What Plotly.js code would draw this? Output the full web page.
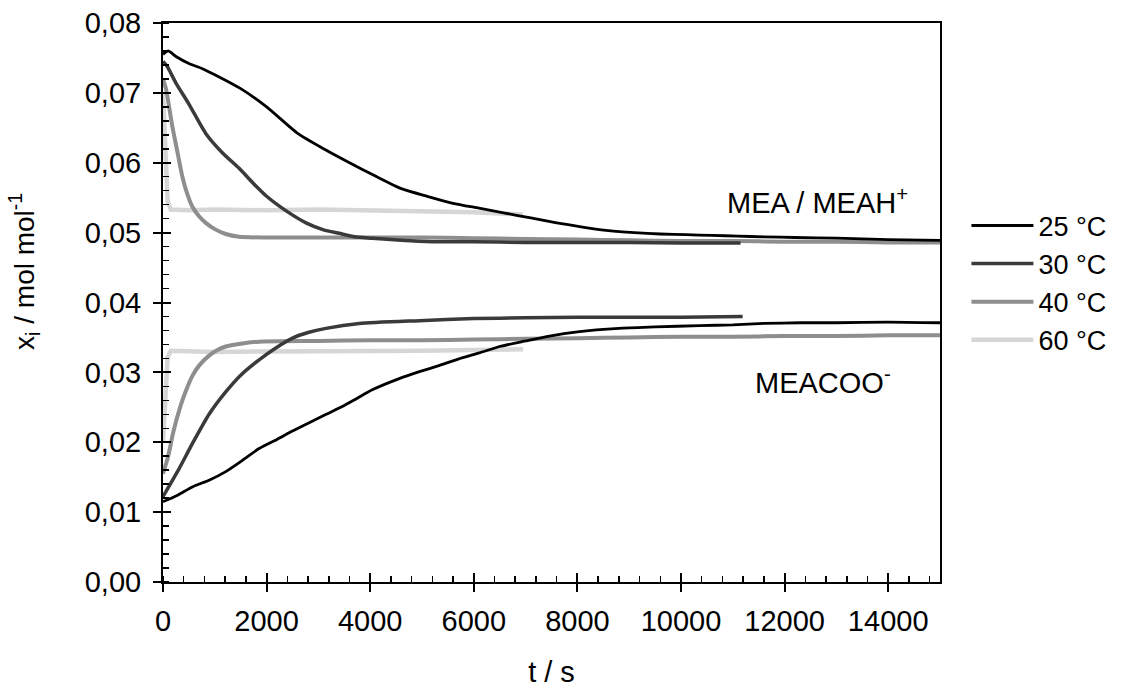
<!DOCTYPE html>
<html>
<head>
<meta charset="utf-8">
<script src="https://cdn.plot.ly/plotly-3.0.1.min.js"></script>
<style>
html,body{margin:0;padding:0;background:#fff;}
#chart{width:1124px;height:689px;}
</style>
</head>
<body>
<div id="chart"></div>
<script>
// ---- Data ----
// Temperatures (legend)
const seriesNames = ["25 °C", "30 °C", "40 °C", "60 °C"];

// MEA / MEAH+ (upper curves)
const t25u = [0,100,250,500,750,1000,1500,2000,2600,3100,3600,4100,4600,5100,5600,6100,6600,7100,7600,8100,8600,9100,9600,10100,10600,11100,11600,12200,13000,14000,15000];
const v25u = [0.0755,0.0760,0.0752,0.0742,0.0735,0.0726,0.0706,0.0680,0.0642,0.0620,0.0600,0.0581,0.0563,0.0552,0.0542,0.0535,0.0528,0.0521,0.0514,0.0508,0.0503,0.0500,0.0498,0.0497,0.0496,0.0495,0.0494,0.0493,0.0492,0.0490,0.0489];

const t30u = [0,80,250,500,825,1150,1470,1750,2000,2400,2760,3100,3400,3700,4040,4600,5200,6000,7000,8000,9000,10000,11150];
const v30u = [0.0745,0.0738,0.0714,0.0684,0.0642,0.0614,0.0592,0.0570,0.0552,0.0530,0.0514,0.0504,0.0499,0.0494,0.0492,0.0489,0.0487,0.0487,0.0486,0.0486,0.0486,0.0485,0.0485];

const t40u = [0,60,180,280,374,470,567,700,825,1000,1211,1469,2000,3000,4000,5000,6000,7000,8000,9000,10000,11000,12000,13000,14000,15000];
const v40u = [0.0720,0.0705,0.0652,0.0615,0.0580,0.0555,0.0537,0.0523,0.0514,0.0505,0.0498,0.0494,0.0493,0.0493,0.0493,0.0493,0.0492,0.0491,0.0490,0.0489,0.0488,0.0488,0.0487,0.0487,0.0486,0.0486];

const t60u = [0,40,90,150,500,1000,2000,3000,4000,5000,6000,6950];
const v60u = [0.0700,0.0620,0.0545,0.0533,0.0532,0.0533,0.0532,0.0533,0.0532,0.0531,0.0529,0.0526];

// MEACOO- (lower curves)
const t25l = [0,100,300,567,900,1211,1550,1856,2200,2500,2822,3150,3460,3750,4040,4560,4950,5340,5700,6110,6500,7000,7460,8000,8800,9500,10360,11000,11600,12300,13000,14000,15000];
const v25l = [0.0115,0.0118,0.0125,0.0136,0.0146,0.0158,0.0175,0.0191,0.0204,0.0216,0.0228,0.0240,0.0251,0.0263,0.0275,0.0291,0.0301,0.0310,0.0319,0.0328,0.0337,0.0345,0.0352,0.0358,0.0363,0.0365,0.0367,0.0368,0.0370,0.0371,0.0371,0.0372,0.0371];

const t30l = [0,100,309,567,889,1211,1500,1856,2200,2500,2800,3145,3789,4950,6000,7000,8000,9000,10000,11190];
const v30l = [0.0122,0.0135,0.0162,0.0198,0.0240,0.0272,0.0296,0.0318,0.0336,0.0349,0.0357,0.0363,0.0370,0.0374,0.0377,0.0378,0.0379,0.0379,0.0379,0.0380];

const t40l = [0,100,200,330,450,567,700,889,1050,1211,1500,1856,3000,4000,5000,6000,7000,8000,9000,10000,11000,12000,13000,14000,15000];
const v40l = [0.0155,0.0180,0.0215,0.0250,0.0275,0.0295,0.0310,0.0324,0.0332,0.0337,0.0341,0.0344,0.0345,0.0346,0.0346,0.0347,0.0348,0.0349,0.0350,0.0351,0.0351,0.0352,0.0352,0.0353,0.0353];

const t60l = [0,40,90,150,500,1000,2000,3000,4000,5000,6000,6950];
const v60l = [0.0200,0.0270,0.0322,0.0331,0.0330,0.0329,0.0330,0.0330,0.0330,0.0331,0.0332,0.0333];

// Axis ticks
const xTicks = [0,2000,4000,6000,8000,10000,12000,14000];
const yTicks = [0,0.01,0.02,0.03,0.04,0.05,0.06,0.07,0.08];

// ---- Styles ----
const colors = {"25 °C":"#000000","30 °C":"#3a3a3a","40 °C":"#8e8e8e","60 °C":"#d6d6d6"};
const widths = {"25 °C":2.8,"30 °C":3.5,"40 °C":4,"60 °C":4.5};
const shapes = {"25 °C":"spline","30 °C":"spline","40 °C":"spline","60 °C":"linear"};
const ranks  = {"25 °C":1,"30 °C":2,"40 °C":3,"60 °C":4};
const FONT = "Liberation Sans, Arial, Helvetica, sans-serif";

const upper = {"25 °C":[t25u,v25u],"30 °C":[t30u,v30u],"40 °C":[t40u,v40u],"60 °C":[t60u,v60u]};
const lower = {"25 °C":[t25l,v25l],"30 °C":[t30l,v30l],"40 °C":[t40l,v40l],"60 °C":[t60l,v60l]};

const traces = [];
// draw lightest first so darker lines are on top
const drawOrder = seriesNames.slice().reverse();
drawOrder.forEach(name => {
  [upper, lower].forEach((set, k) => {
    traces.push({
      type:"scatter", mode:"lines",
      x:set[name][0], y:set[name][1],
      name:name, legendgroup:name, legendrank:ranks[name], showlegend:k===0,
      line:{color:colors[name], width:widths[name], shape:shapes[name], smoothing:0.6},
      hoverinfo:"skip"
    });
  });
});
// empty trace to activate the overlay axes (inside halves of major ticks)
traces.push({type:"scatter", mode:"lines", x:[], y:[], xaxis:"x2", yaxis:"y2", showlegend:false, hoverinfo:"skip"});

const axCommon = {
  linecolor:"#000", linewidth:2, tickcolor:"#000", tickwidth:2,
  showgrid:false, zeroline:false
};

const layout = {
  width:1124, height:689,
  margin:{l:163, r:184, t:23, b:107},
  paper_bgcolor:"#fff", plot_bgcolor:"#fff",
  separators:",.",
  font:{family:FONT, size:29, color:"#000"},
  showlegend:true,
  legend:{x:1.034, y:0.535, xanchor:"left", yanchor:"middle",
          traceorder:"normal",
          itemwidth:62, font:{family:FONT, size:27, color:"#000"},
          bgcolor:"rgba(0,0,0,0)"},
  xaxis:Object.assign({}, axCommon, {
    range:[0,15000], tickmode:"array", tickvals:xTicks, tickformat:"d",
    ticks:"outside", ticklen:8, mirror:true, ticklabelstandoff:4,
    minor:{dtick:400, ticks:"inside", ticklen:6, tickwidth:1.5, tickcolor:"#000"},
    tickfont:{family:FONT, size:29},
    title:{text:"t / s", font:{family:FONT, size:29}, standoff:26}
  }),
  yaxis:Object.assign({}, axCommon, {
    range:[0,0.08], tickmode:"array", tickvals:yTicks, tickformat:".2f",
    ticks:"outside", ticklen:8, mirror:true, ticklabelstandoff:6,
    minor:{dtick:0.002, ticks:"inside", ticklen:6, tickwidth:1.5, tickcolor:"#000"},
    tickfont:{family:FONT, size:29}
  }),
  xaxis2:{overlaying:"x", anchor:"y2", range:[0,15000], tickmode:"array", tickvals:xTicks,
    ticks:"inside", ticklen:9, tickwidth:2, tickcolor:"#000", showticklabels:false,
    showline:false, showgrid:false, zeroline:false},
  yaxis2:{overlaying:"y", anchor:"x2", side:"left", range:[0,0.08], tickmode:"array", tickvals:yTicks,
    ticks:"inside", ticklen:8, tickwidth:2, tickcolor:"#000", showticklabels:false,
    showline:false, showgrid:false, zeroline:false},
  annotations:[
    {text:"x<sub>i</sub> / mol mol<sup>-1</sup>", textangle:-90, xref:"paper", yref:"paper",
     x:-0.178, y:0.556, xanchor:"center", yanchor:"middle", showarrow:false,
     font:{family:FONT, size:28, color:"#000"}},
    {text:"MEA / MEAH<sup>+</sup>", xref:"x", yref:"y", x:12640, y:0.0545,
     xanchor:"center", yanchor:"middle", showarrow:false, font:{family:FONT, size:29, color:"#000"}},
    {text:"MEACOO<sup>-</sup>", xref:"x", yref:"y", x:12740, y:0.0287,
     xanchor:"center", yanchor:"middle", showarrow:false, font:{family:FONT, size:29, color:"#000"}}
  ]
};

Plotly.newPlot("chart", traces, layout, {staticPlot:true, displayModeBar:false});
</script>
</body>
</html>
